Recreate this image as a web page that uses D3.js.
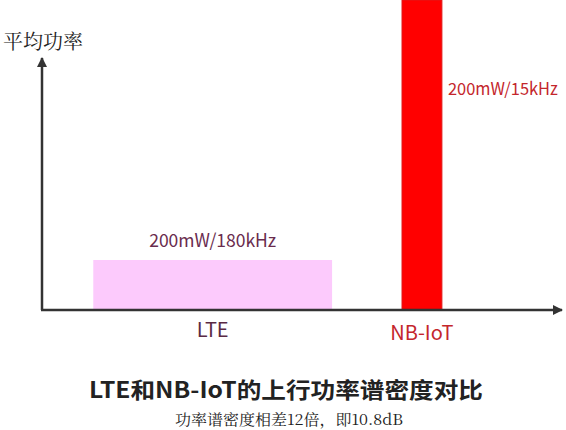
<!DOCTYPE html>
<html><head><meta charset="utf-8">
<script src="https://cdn.jsdelivr.net/npm/d3@7"></script>
<style>html,body{margin:0;padding:0;background:#fff;}svg{display:block;}</style>
</head><body>
<script>
const categories = ["LTE", "NB-IoT"];
const bandStart = [9.9, 69.5];
const bandEnd = [56.0, 77.2];
const values = [1, 6.2];
const valueLabels = ["200mW/180kHz", "200mW/15kHz"];
const yAxisTitle = "平均功率";
const title = "LTE和NB-IoT的上行功率谱密度对比";
const subtitle = "功率谱密度相差12倍，即10.8dB";

const W = 566, H = 430;
const svg = d3.select("body").append("svg").attr("width", W).attr("height", H);
const x = d3.scaleLinear().domain([0, 100]).range([42, 560]);
const y = d3.scaleLinear().domain([0, 1]).range([310, 260]);
const fillC = ["#fccafc", "#ff0000"];
const strokeC = ["none", "#e01818"];
const labelC = ["#6a2c4e", "#c4262c"];
const catC = ["#5a2a44", "#c4262c"];
const cjk = "'Noto Sans CJK SC', sans-serif";

svg.selectAll("rect.bar").data(categories).join("rect")
  .attr("class", "bar")
  .attr("x", (d, i) => x(bandStart[i]))
  .attr("width", (d, i) => x(bandEnd[i]) - x(bandStart[i]))
  .attr("y", (d, i) => Math.max(0, y(values[i])))
  .attr("height", (d, i) => y(0) - Math.max(0, y(values[i])))
  .attr("fill", (d, i) => fillC[i])
  .attr("stroke", (d, i) => strokeC[i]).attr("stroke-width", 1);

const defs = svg.append("defs");
defs.append("marker").attr("id", "arr").attr("viewBox", "0 0 10 10")
  .attr("refX", 9).attr("refY", 5).attr("markerWidth", 4).attr("markerHeight", 4)
  .attr("markerUnits", "strokeWidth").attr("orient", "auto")
  .append("path").attr("d", "M0,0 L10,5 L0,10 z").attr("fill", "#333");

// axes
svg.append("line").attr("x1", x(0)).attr("y1", y(0)).attr("x2", x(0)).attr("y2", 58)
  .attr("stroke", "#333").attr("stroke-width", 2.5).attr("marker-end", "url(#arr)");
svg.append("line").attr("x1", x(0) - 1).attr("y1", y(0)).attr("x2", 562).attr("y2", y(0))
  .attr("stroke", "#333").attr("stroke-width", 2.5).attr("marker-end", "url(#arr)");

svg.append("text").attr("x", 3).attr("y", 49).text(yAxisTitle)
  .attr("font-family", "'Noto Serif CJK SC', " + cjk).attr("font-size", 20).attr("fill", "#222");

// value labels
svg.append("text").attr("x", (x(bandStart[0]) + x(bandEnd[0])) / 2).attr("y", y(values[0]) - 13)
  .attr("text-anchor", "middle").text(valueLabels[0])
  .attr("font-family", cjk).attr("font-size", 18).attr("fill", labelC[0])
  .attr("textLength", 127).attr("lengthAdjust", "spacingAndGlyphs");
svg.append("text").attr("x", x(bandEnd[1]) + 6).attr("y", 95)
  .text(valueLabels[1])
  .attr("font-family", cjk).attr("font-size", 17).attr("fill", labelC[1])
  .attr("textLength", 110).attr("lengthAdjust", "spacingAndGlyphs");

// category labels
svg.selectAll("text.cat").data(categories).join("text").attr("class", "cat")
  .attr("x", (d, i) => (x(bandStart[i]) + x(bandEnd[i])) / 2)
  .attr("y", (d, i) => i === 0 ? 337 : 340)
  .attr("text-anchor", "middle").text(d => d)
  .attr("font-family", cjk).attr("font-size", 20).attr("fill", (d, i) => catC[i]);

svg.append("text").attr("x", 286).attr("y", 398).attr("text-anchor", "middle").text(title)
  .attr("font-family", cjk).attr("font-size", 22).attr("font-weight", 600).attr("fill", "#222")
  .attr("textLength", 394).attr("lengthAdjust", "spacingAndGlyphs");
svg.append("text").attr("x", 289).attr("y", 425).attr("text-anchor", "middle").text(subtitle)
  .attr("font-family", "'Noto Serif CJK SC', " + cjk).attr("font-size", 15).attr("fill", "#222")
  .attr("textLength", 228).attr("lengthAdjust", "spacingAndGlyphs");
</script>
</body></html>
